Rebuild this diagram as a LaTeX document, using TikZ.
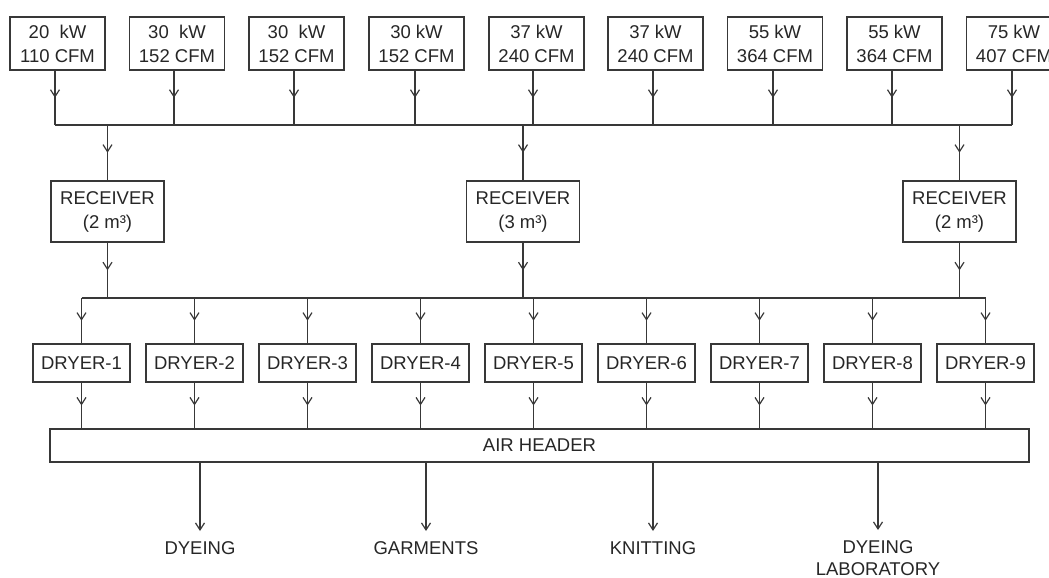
\documentclass[tikz,border=0pt]{standalone}
\usepackage{fontspec}
\setmainfont{Liberation Sans}
\usetikzlibrary{arrows.meta,decorations.markings}
\definecolor{ln}{HTML}{383838}
\definecolor{tx}{HTML}{262626}
\begin{document}
\begin{tikzpicture}[x=1pt,y=-1pt,
  every node/.style={text=tx, font=\fontsize{18.5}{24}\selectfont},
  box/.style={draw=ln, line width=1.2pt, inner sep=0pt, align=center},
  comp/.style={box, minimum width=95pt, minimum height=53pt},
  recv/.style={box, minimum width=113pt, minimum height=61pt},
  dryerbox/.style={box, minimum width=97pt, minimum height=38pt},
  pipe/.style={draw=ln, line width=1.2pt},
  flow/.style={pipe, decoration={markings, mark=at position 0.5 with {\arrow{Straight Barb[length=7pt,width=9pt,line width=1.2pt]}}}, postaction=decorate},
  endflow/.style={pipe, -{Straight Barb[length=7pt,width=9pt,line width=1.2pt]}},
  outlbl/.style={anchor=north, inner ysep=10pt, inner xsep=0pt, align=center}
]
\useasboundingbox (0,0) rectangle (1049,578);
\clip (0,0) rectangle (1049,578);

% compressors
\node[comp] (c1) at (57.5,43.5) {20\ \ kW\\110 CFM};
\node[comp] (c2) at (177,43.5) {30\ \ kW\\152 CFM};
\node[comp] (c3) at (296.5,43.5) {30\ \ kW\\152 CFM};
\node[comp] (c4) at (416.5,43.5) {30 kW\\152 CFM};
\node[comp] (c5) at (536.5,43.5) {37 kW\\240 CFM};
\node[comp] (c6) at (655.5,43.5) {37 kW\\240 CFM};
\node[comp] (c7) at (775,43.5) {55 kW\\364 CFM};
\node[comp] (c8) at (894.5,43.5) {55 kW\\364 CFM};
\node[comp] (c9) at (1014,43.5) {75 kW\\407 CFM};

% upper header
\foreach \i/\x in {1/55,2/174,3/294,4/415,5/533,6/653,7/773,8/892,9/1012}{
  \coordinate (h\i) at (\x,125);
  \draw[flow] (c\i.south -| h\i) -- (h\i);
}
\draw[pipe] (h1) -- (h9);

% receivers
\node[recv] (r1) at (107.5,211.5) {RECEIVER\\(2 m³)};
\node[recv] (r2) at (523,211.5) {RECEIVER\\(3 m³)};
\node[recv] (r3) at (959.5,211.5) {RECEIVER\\(2 m³)};
\coordinate (rb1) at (107.5,298);
\coordinate (rb2) at (523,298);
\coordinate (rb3) at (959.5,298);
\foreach \i in {1,2,3}{
  \coordinate (ra\i) at (r\i.north |- h1);
  \draw[flow] (ra\i) -- (r\i.north);
  \draw[flow] (r\i.south) -- (rb\i);
}

% dryers
\foreach \i in {1,...,9}{
  \pgfmathsetmacro{\dx}{81.5+113*(\i-1)}
  \node[dryerbox] (d\i) at (\dx,363) {DRYER-\i};
  \coordinate (g\i) at (\dx,298);
  \draw[flow] (g\i) -- (d\i.north);
}
\draw[pipe] (g1) -- (g9);

% air header
\node[box, minimum width=979pt, minimum height=33pt] (air) at (539.5,445.5) {AIR HEADER};
\foreach \i in {1,...,9}{
  \draw[flow] (d\i.south) -- (d\i.south |- air.north);
}

% outlets
\node[outlbl] (o1) at (200,531) {DYEING};
\node[outlbl] (o2) at (426,531) {GARMENTS};
\node[outlbl] (o3) at (653,531) {KNITTING};
\node[outlbl, font=\fontsize{18.5}{22}\selectfont] (o4) at (878,530) {DYEING\\LABORATORY};
\foreach \i in {1,...,4}{
  \draw[endflow] (o\i.north |- air.south) -- (o\i.north);
}
\end{tikzpicture}
\end{document}
